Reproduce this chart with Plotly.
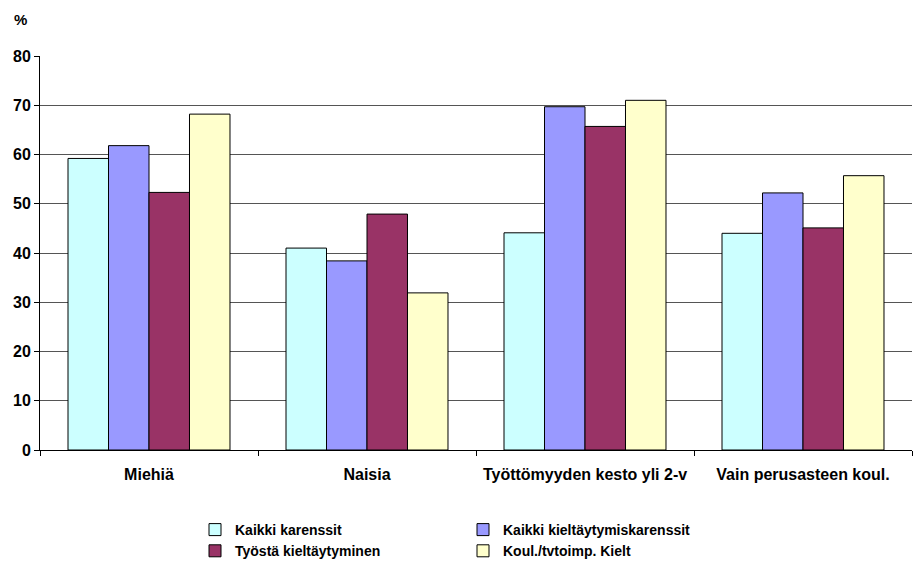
import plotly.graph_objects as go

categories = ["Miehiä", "Naisia", "Työttömyyden kesto yli 2-v", "Vain perusasteen koul."]
series_names = ["Kaikki karenssit", "Kaikki kieltäytymiskarenssit", "Työstä kieltäytyminen", "Koul./tvtoimp. Kielt"]
kaikki_karenssit = [59.2, 41.0, 44.1, 44.0]
kieltaytymiskarenssit = [61.8, 38.4, 69.7, 52.2]
tyosta_kieltaytyminen = [52.3, 47.9, 65.7, 45.1]
koul_kielt = [68.2, 31.9, 71.0, 55.7]
colors = ["#CCFFFF", "#9999FF", "#993366", "#FFFFCC"]
legend_ids = ["legend", "legend2", "legend", "legend2"]
y_ticks = [0, 10, 20, 30, 40, 50, 60, 70, 80]

FONT = "Arial, Liberation Sans, sans-serif"

fig = go.Figure()
for name, vals, col, lg in zip(series_names,
                               [kaikki_karenssit, kieltaytymiskarenssit, tyosta_kieltaytyminen, koul_kielt],
                               colors, legend_ids):
    fig.add_trace(go.Bar(name=name, x=categories, y=vals, legend=lg,
                         marker=dict(color=col, line=dict(color="#000000", width=1))))

# page body has an 8px margin; the figure is sized to fill the rest of the window
OFF = 8
W, H = 922 - OFF, 563 - OFF
L, R, T, B = 40 - OFF, 10, 56 - OFF, 113
pw, ph = W - L - R, H - T - B

def px_x(x):  # figure pixel -> paper fraction
    return (x - L) / pw

def px_y(y):
    return ((H - B) - y) / ph

leg_common = dict(orientation="v", xanchor="left", yanchor="top",
                  font=dict(size=14, family=FONT, weight="bold"),
                  traceorder="normal", itemwidth=30, bgcolor="rgba(0,0,0,0)")
leg_y = px_y(506)

fig.update_layout(
    width=W, height=H,
    margin=dict(l=L, r=R, t=T, b=B, autoexpand=False),
    paper_bgcolor="white", plot_bgcolor="white",
    barmode="group", bargap=0.257, bargroupgap=0,
    font=dict(family=FONT, size=12, color="#000000"),
    showlegend=True,
    legend=dict(x=px_x(187), y=leg_y, **leg_common),
    legend2=dict(x=px_x(455), y=leg_y, **leg_common),
    annotations=[dict(text="<b>%</b>", x=px_x(20 - OFF), y=px_y(20 - OFF),
                      xref="paper", yref="paper", showarrow=False,
                      xanchor="center", yanchor="middle",
                      font=dict(size=15, family=FONT))],
)

fig.update_xaxes(showline=True, linecolor="#000000", linewidth=1, ticks="outside", tickson="boundaries",
                 ticklen=5, tickcolor="#000000", showgrid=False, automargin=False,
                 ticklabelstandoff=10,
                 tickfont=dict(size=16, weight="bold", family=FONT))
fig.update_yaxes(range=[0, 80], tickvals=y_ticks, showline=True, linecolor="#000000", linewidth=1,
                 ticks="outside", ticklen=5, tickcolor="#000000", automargin=False,
                 showgrid=True, gridcolor="#555555", gridwidth=1, zeroline=False,
                 tickfont=dict(size=16, weight="bold", family=FONT))

fig.write_html("out.html")
